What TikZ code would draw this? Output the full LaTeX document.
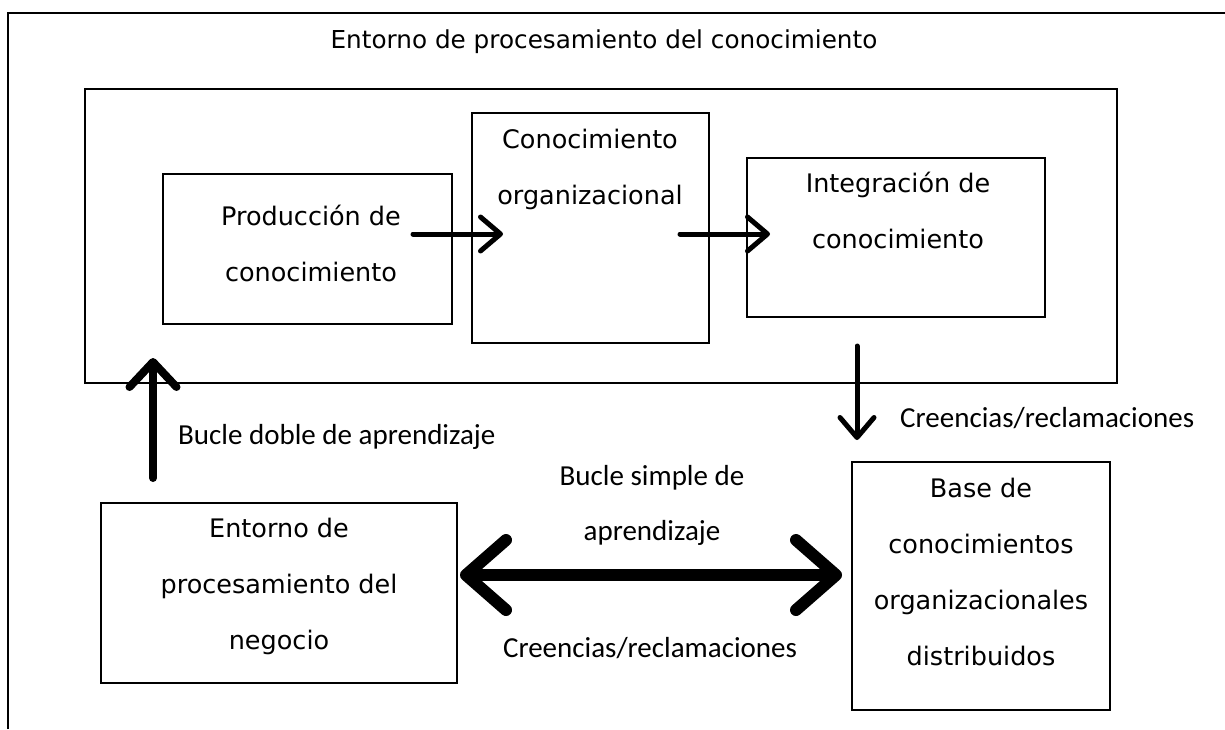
\documentclass[tikz,border=0pt]{standalone}
\usepackage{fontspec}
\newfontfamily\boxfont{DejaVu Sans}
\newfontfamily\lblfont{Carlito}
\usetikzlibrary{arrows.meta}
\usetikzlibrary{positioning}
\tikzset{mybox/.style={draw, line width=2.5pt, inner sep=0pt}}
\tikzset{myboxTxt/.style={align=center, inner sep=0pt, font=\boxfont\fontsize{25.5}{56}\selectfont}}
\tikzset{mytitle/.style={inner sep=0pt, font=\boxfont\fontsize{24.7}{56}\selectfont}}
\tikzset{mylbl/.style={align=center, inner sep=0pt, font=\lblfont\fontsize{29}{55}\selectfont}}
\tikzset{myarrow/.style={line width=5pt, line cap=round, -{Straight Barb[length=20pt, width=34pt, line cap=round, line join=round]}}}
\tikzset{myarrowUp/.style={line width=8pt, line cap=round, -{Straight Barb[length=25pt, width=47pt, line cap=round, line join=round]}}}
\tikzset{myarrowBoth/.style={line width=12pt, line cap=round, {Straight Barb[length=40pt, width=70pt, line cap=round, line join=round]}-{Straight Barb[length=40pt, width=70pt, line cap=round, line join=round]}}}

\begin{document}
\begin{tikzpicture}[x=1pt, y=-1pt]

\useasboundingbox (0,0) rectangle (1225,729);

% marco exterior
\draw[line width=2.5pt] (8,729) -- (8,13) -- (1225,13);

\node[mytitle] (title) at (604,42) {Entorno de procesamiento del conocimiento};

\node[mybox, minimum width=1032pt, minimum height=294pt] (env) at (601,236) {};

\node[mybox, minimum width=289pt, minimum height=150pt] (prod) at (307.5,249) {};
\node[mybox, minimum width=237pt, minimum height=230pt] (conoc) at (590.5,228) {};
\node[mybox, minimum width=298pt, minimum height=159pt] (integ) at (896,237.5) {};
\node[mybox, minimum width=356pt, minimum height=180pt] (negocio) at (279,593) {};
\node[mybox, minimum width=258pt, minimum height=248pt] (base) at (981,586) {};

\node[myboxTxt] (prodTxt) at (311,243.5) {Producción de\\conocimiento};
\node[myboxTxt] (conocTxt) at (590,169) {Conocimiento\\organizacional};
\node[myboxTxt] (integTxt) at (898,210.5) {Integración de\\conocimiento};
\node[myboxTxt] (negocioTxt) at (279,586) {Entorno de\\procesamiento del\\negocio};
\node[myboxTxt] (baseTxt) at (981,572) {Base de\\conocimientos\\organizacionales\\distribuidos};

\node[mylbl, anchor=west] (dobleLbl) at (178,437) {Bucle doble de aprendizaje};
\node[mylbl, anchor=west] (creenLbl) at (900,418) {Creencias/reclamaciones};
\node[mylbl] (simpleLbl) at (652,505.5) {Bucle simple de\\aprendizaje};
\node[mylbl] (creenLbl2) at (650,648) {Creencias/reclamaciones};

% extremos de las flechas
\coordinate (prodOut) at (413,234);
\coordinate (conocIn) at (503,234);
\coordinate (conocOut) at (680,234);
\coordinate (integIn) at (770,234);
\coordinate (envOut) at (857,346);
\coordinate (baseIn) at (857,440);
\coordinate (negocioOut) at (153,478);
\coordinate (envIn) at (153,358);
\coordinate (negocioR) at (460,575);
\coordinate (baseL) at (842,575);

\draw[myarrow] (prodOut) -- (conocIn);
\draw[myarrow] (conocOut) -- (integIn);
\draw[myarrow] (envOut) -- (baseIn);
\draw[myarrowUp] (negocioOut) -- (envIn);
\draw[myarrowBoth] (negocioR) -- (baseL);

\end{tikzpicture}
\end{document}
